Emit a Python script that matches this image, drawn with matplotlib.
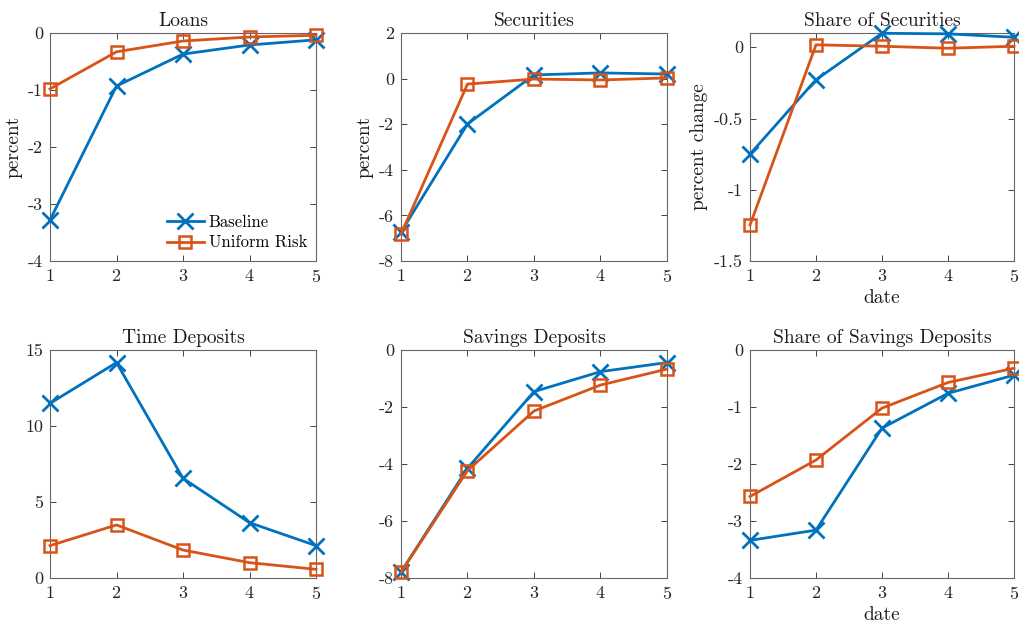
import matplotlib
matplotlib.use("Agg")
import matplotlib.pyplot as plt
from matplotlib.ticker import FormatStrFormatter

plt.rcParams["font.family"] = "serif"
plt.rcParams["font.serif"] = ["cmr10"]
plt.rcParams["mathtext.fontset"] = "cm"
plt.rcParams["axes.unicode_minus"] = False
plt.rcParams["axes.formatter.use_mathtext"] = True

dates = [1, 2, 3, 4, 5]

loans_base = [-3.28, -0.93, -0.37, -0.21, -0.12]
loans_unif = [-0.98, -0.33, -0.14, -0.07, -0.04]

sec_base = [-6.73, -1.99, 0.16, 0.25, 0.20]
sec_unif = [-6.82, -0.24, -0.02, -0.06, 0.03]

share_sec_base = [-0.75, -0.228, 0.098, 0.094, 0.07]
share_sec_unif = [-1.248, 0.017, 0.007, -0.007, 0.007]

time_base = [11.49, 14.17, 6.56, 3.64, 2.13]
time_unif = [2.13, 3.49, 1.84, 1.01, 0.57]

sav_base = [-7.79, -4.15, -1.46, -0.76, -0.44]
sav_unif = [-7.80, -4.23, -2.14, -1.23, -0.67]

share_sav_base = [-3.34, -3.16, -1.37, -0.76, -0.44]
share_sav_unif = [-2.57, -1.93, -1.02, -0.57, -0.32]

titles = ["Loans", "Securities", "Share of Securities",
          "Time Deposits", "Savings Deposits", "Share of Savings Deposits"]
series = [(loans_base, loans_unif), (sec_base, sec_unif),
          (share_sec_base, share_sec_unif), (time_base, time_unif),
          (sav_base, sav_unif), (share_sav_base, share_sav_unif)]
ylims = [(-4, 0), (-8, 2), (-1.5, 0.1), (0, 15), (-8, 0), (-4, 0)]
yticks = [[-4, -3, -2, -1, 0], [-8, -6, -4, -2, 0, 2], [-1.5, -1, -0.5, 0],
          [0, 5, 10, 15], [-8, -6, -4, -2, 0], [-4, -3, -2, -1, 0]]
ylabels = ["percent", "percent", "percent change", "", "", ""]
xlabels = ["", "", "date", "", "", "date"]

BLUE = "#0072BD"
ORANGE = "#D95319"
AXC = "0.15"

W, H = 1020, 628
fig = plt.figure(figsize=(W / 100, H / 100), dpi=100)

lefts = [50, 401, 750]
widths = [266, 266, 264]
tops = [33, 350]
ah = 228

for i in range(6):
    r, c = divmod(i, 3)
    ax = fig.add_axes([lefts[c] / W, 1 - (tops[r] + ah) / H,
                       widths[c] / W, ah / H])
    base, unif = series[i]
    ax.plot(dates, base, color=BLUE, lw=2, marker="x", ms=11, mew=2,
            clip_on=False, label="Baseline", zorder=3)
    ax.plot(dates, unif, color=ORANGE, lw=2, marker="s", ms=8, mew=1.8,
            mfc="none", clip_on=False, label="Uniform Risk", zorder=3)
    ax.set_xlim(1, 5)
    ax.set_ylim(*ylims[i])
    ax.set_xticks(dates)
    ax.set_yticks(yticks[i])
    ax.yaxis.set_major_formatter(FormatStrFormatter("%g"))
    ax.tick_params(direction="in", top=True, right=True, length=4,
                   width=0.6, colors=AXC, labelsize=13, pad=5)
    for s in ax.spines.values():
        s.set_color("0.4")
        s.set_linewidth(0.8)
    ax.set_title(titles[i], fontsize=14, color="0.1", pad=5)
    if ylabels[i]:
        ax.set_ylabel(ylabels[i], fontsize=14, color="0.1", labelpad=4)
    if xlabels[i]:
        ax.set_xlabel(xlabels[i], fontsize=14, color="0.1", labelpad=3)
    if i == 0:
        ax.legend(loc="lower right", frameon=False, fontsize=12,
                  handlelength=2.2, handletextpad=0.3, labelspacing=0.3,
                  borderaxespad=0.3, bbox_to_anchor=(1.01, -0.005))

fig.savefig("out.png", dpi=100)
